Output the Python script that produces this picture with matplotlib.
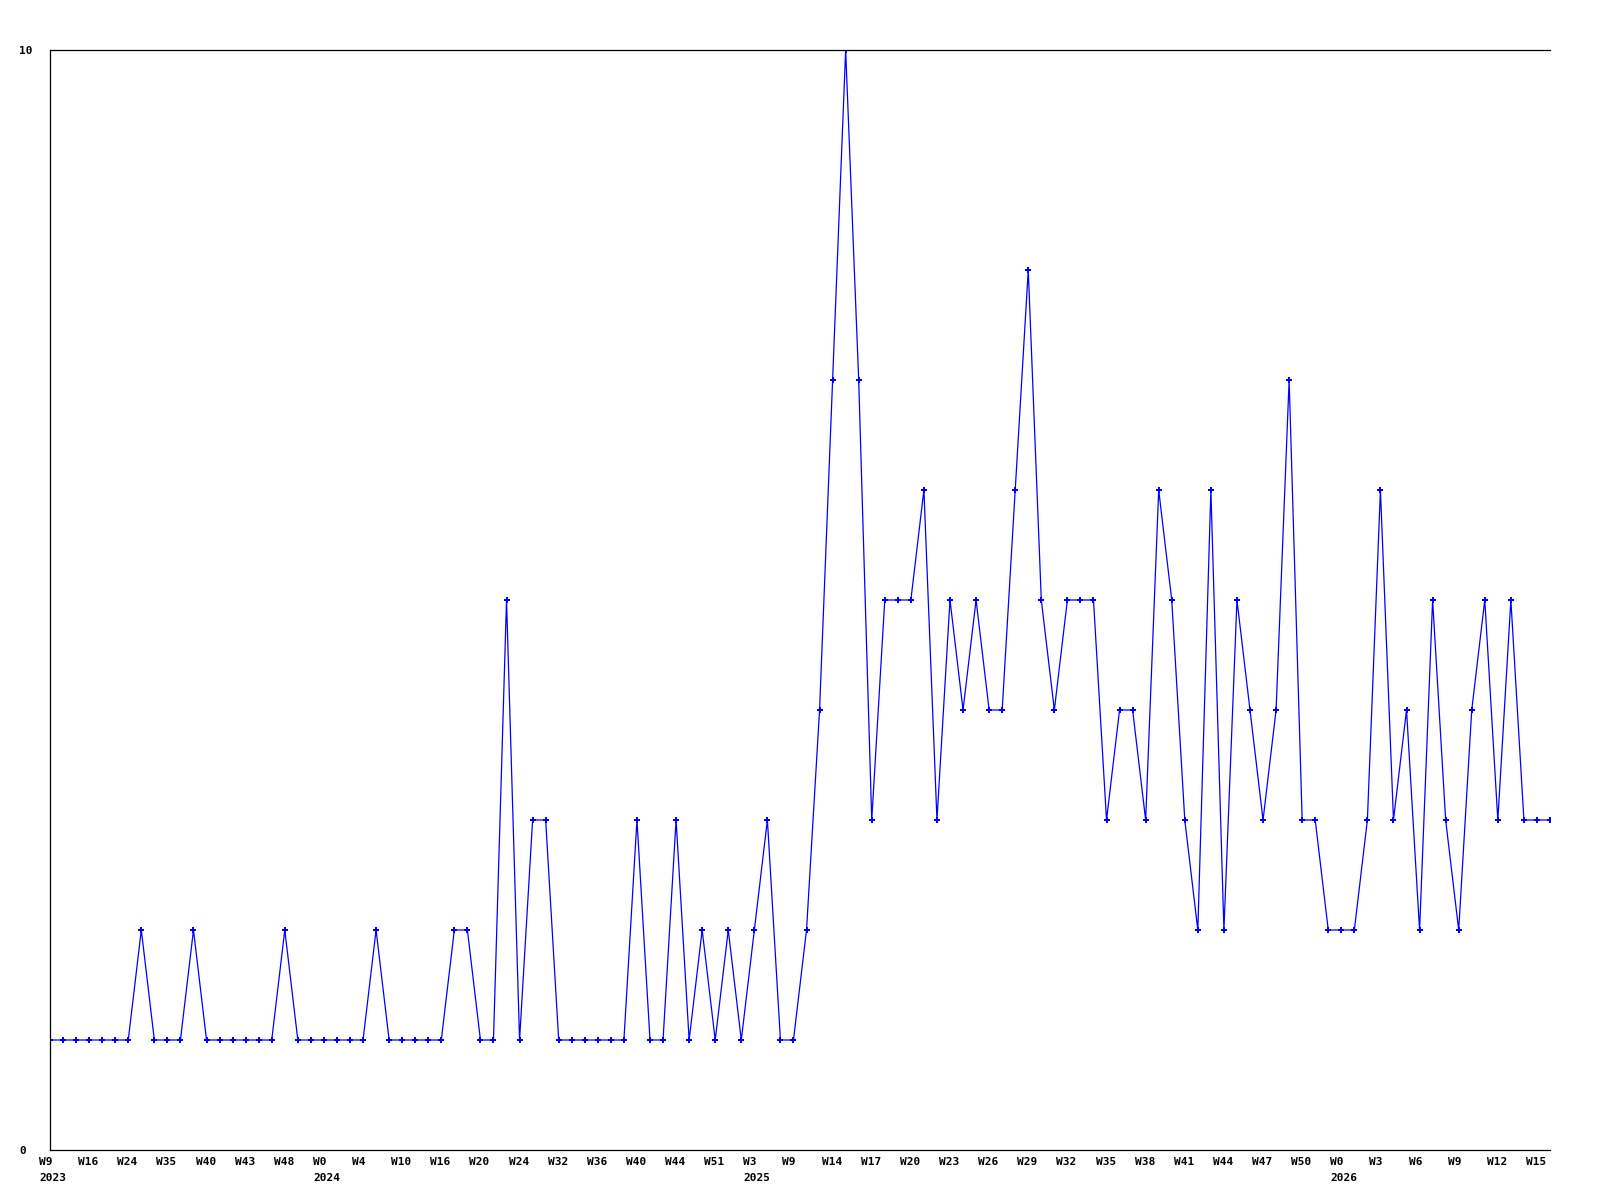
import matplotlib
matplotlib.use("Agg")
import matplotlib.pyplot as plt

# Weekly counts (one point per week that has data)
values = [
    1, 1, 1, 1, 1, 1, 1, 2, 1, 1, 1, 2, 1, 1, 1, 1, 1, 1, 2, 1,
    1, 1, 1, 1, 1, 2, 1, 1, 1, 1, 1, 2, 2, 1, 1, 5, 1, 3, 3, 1,
    1, 1, 1, 1, 1, 3, 1, 1, 3, 1, 2, 1, 2, 1, 2, 3, 1, 1, 2, 4,
    7, 10, 7, 3, 5, 5, 5, 6, 3, 5, 4, 5, 4, 4, 6, 8, 5, 4, 5, 5,
    5, 3, 4, 4, 3, 6, 5, 3, 2, 6, 2, 5, 4, 3, 4, 7, 3, 3, 2, 2,
    2, 3, 6, 3, 4, 2, 5, 3, 2, 4, 5, 3, 5, 3, 3, 3,
]

# Labels shown on every third point
week_labels = [
    "W9", "W16", "W24", "W35", "W40", "W43", "W48",
    "W0", "W4", "W10", "W16", "W20", "W24", "W32", "W36", "W40", "W44", "W51",
    "W3", "W9", "W14", "W17", "W20", "W23", "W26", "W29", "W32", "W35", "W38",
    "W41", "W44", "W47", "W50",
    "W0", "W3", "W6", "W9", "W12", "W15",
]
# index in week_labels where a new year starts
year_positions = [0, 7, 18, 33]
years = ["2023", "2024", "2025", "2026"]

label_step = 3
x = list(range(len(values)))

fig = plt.figure(figsize=(16, 12), dpi=100)
ax = fig.add_axes([50 / 1600, 50 / 1200, 1500 / 1600, 1100 / 1200])

ax.plot(x, values, color="#0000ff", linewidth=0.9,
        marker="P", markersize=4, markeredgewidth=0)

ax.set_xlim(0, len(values) - 1)
ax.set_ylim(0, 10)

# x labels: week, plus the year under the first week of each year
ax.set_xticks([])
font = dict(family="DejaVu Sans Mono", weight="bold", fontsize=8)
for i, lab in enumerate(week_labels):
    pos = i * label_step
    ax.annotate(lab, xy=(pos, 0), xycoords=("data", "axes fraction"),
                xytext=(-11, -7), textcoords="offset pixels",
                ha="left", va="top", annotation_clip=False, **font)
    if i in year_positions:
        year = years[year_positions.index(i)]
        ax.annotate(year, xy=(pos, 0), xycoords=("data", "axes fraction"),
                    xytext=(-11, -23), textcoords="offset pixels",
                    ha="left", va="top", annotation_clip=False, **font)

ax.set_yticks([0, 10])
ax.set_yticklabels(["0", "10"], ha="left", **font)
ax.tick_params(axis="y", length=0, pad=22)

ax.spines["right"].set_visible(False)
for side in ["left", "bottom", "top"]:
    ax.spines[side].set_linewidth(0.9)
    ax.spines[side].set_color("black")

fig.savefig("out.png", dpi=100)
